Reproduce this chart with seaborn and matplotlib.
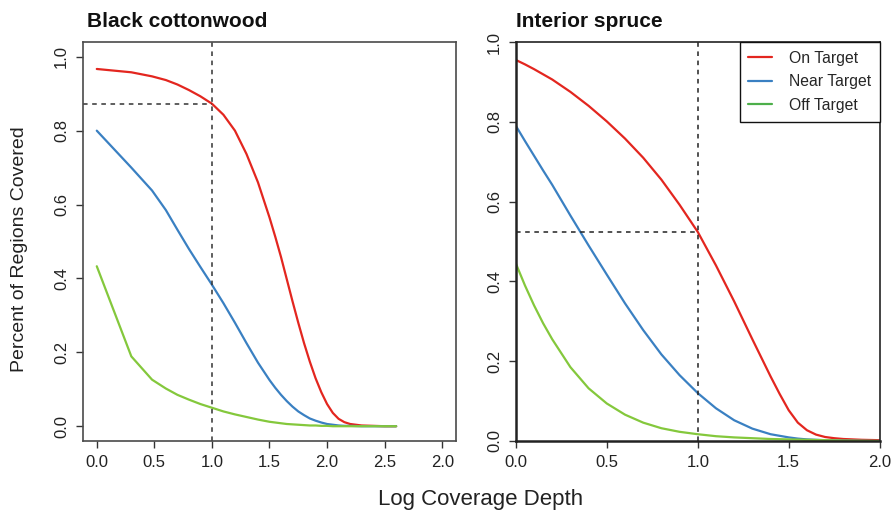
import pandas as pd
import matplotlib
matplotlib.use("Agg")
import matplotlib.pyplot as plt
from matplotlib.lines import Line2D
import seaborn as sns

# %% Data
# Black cottonwood (left panel)
bc_x = [0.0, 0.30, 0.48, 0.6, 0.7, 0.8, 0.9, 1.0, 1.1, 1.2, 1.3, 1.4, 1.5,
        1.55, 1.6, 1.65, 1.7, 1.75, 1.8, 1.85, 1.9, 1.95, 2.0, 2.05, 2.1,
        2.15, 2.2, 2.3, 2.4, 2.5, 2.6]
bc_on = [0.967, 0.958, 0.947, 0.937, 0.925, 0.910, 0.893, 0.873, 0.843, 0.800,
         0.737, 0.660, 0.565, 0.513, 0.458, 0.398, 0.338, 0.280, 0.225, 0.175,
         0.130, 0.092, 0.060, 0.036, 0.020, 0.011, 0.006, 0.002, 0.001, 0.0, 0.0]
bc_near = [0.800, 0.700, 0.638, 0.585, 0.532, 0.480, 0.431, 0.383, 0.333, 0.280,
           0.225, 0.172, 0.125, 0.104, 0.085, 0.068, 0.053, 0.040, 0.030, 0.021,
           0.015, 0.010, 0.006, 0.004, 0.002, 0.001, 0.001, 0.0, 0.0, 0.0, 0.0]
bc_off = [0.433, 0.189, 0.126, 0.102, 0.085, 0.072, 0.060, 0.050, 0.040, 0.032,
          0.025, 0.018, 0.012, 0.010, 0.008, 0.006, 0.005, 0.004, 0.003, 0.002,
          0.002, 0.001, 0.001, 0.0, 0.0, 0.0, 0.0, 0.0, 0.0, 0.0, 0.0]
bc_xticks = [0.0, 0.5, 1.0, 1.5, 2.0, 2.5, 3.0]
bc_xlabels = ["0.0", "0.5", "1.0", "1.5", "2.0", "2.5", "2.0"]
bc_ref_y = 0.872

# Interior spruce (right panel)
is_x = [0.0, 0.05, 0.1, 0.15, 0.2, 0.3, 0.4, 0.5, 0.6, 0.7, 0.8, 0.9, 1.0,
        1.1, 1.2, 1.3, 1.4, 1.45, 1.5, 1.55, 1.6, 1.65, 1.7, 1.75, 1.8, 1.9, 2.0]
is_on = [0.955, 0.944, 0.932, 0.919, 0.906, 0.875, 0.840, 0.801, 0.758, 0.710,
         0.655, 0.592, 0.524, 0.440, 0.350, 0.255, 0.162, 0.118, 0.077, 0.046,
         0.027, 0.016, 0.010, 0.007, 0.005, 0.003, 0.002]
is_near = [0.790, 0.752, 0.715, 0.678, 0.642, 0.565, 0.490, 0.417, 0.345, 0.278,
           0.217, 0.165, 0.120, 0.082, 0.052, 0.031, 0.017, 0.013, 0.009, 0.006,
           0.004, 0.003, 0.002, 0.0015, 0.001, 0.0005, 0.0]
is_off = [0.445, 0.390, 0.340, 0.295, 0.255, 0.185, 0.132, 0.094, 0.066, 0.046,
          0.032, 0.023, 0.017, 0.012, 0.009, 0.007, 0.005, 0.0045, 0.004, 0.0035,
          0.003, 0.0025, 0.002, 0.0015, 0.001, 0.0005, 0.0]
is_xticks = [0.0, 0.5, 1.0, 1.5, 2.0]
is_ref_y = 0.524

yticks = [0.0, 0.2, 0.4, 0.6, 0.8, 1.0]
groups = ["On Target", "Near Target", "Off Target"]
line_colors = {"On Target": "#E3261F", "Near Target": "#3A80C2", "Off Target": "#84C83C"}
legend_colors = ["#E3261F", "#3A80C2", "#4DAF4A"]

# %% Long tables for seaborn
bc = pd.DataFrame({"x": bc_x * 3,
                   "y": bc_on + bc_near + bc_off,
                   "series": [g for g in groups for _ in bc_x]})
sp = pd.DataFrame({"x": is_x * 3,
                   "y": is_on + is_near + is_off,
                   "series": [g for g in groups for _ in is_x]})

# %% Plot
sns.set_style("white")
plt.rcParams["font.family"] = ["Liberation Sans", "DejaVu Sans"]

fig = plt.figure(figsize=(8.94, 5.11), dpi=100)
ax1 = fig.add_axes([0.0928, 0.137, 0.4173, 0.7808])
ax2 = fig.add_axes([0.577, 0.137, 0.407, 0.7808])

sns.lineplot(data=bc, x="x", y="y", hue="series", palette=line_colors,
             linewidth=1.6, legend=False, ax=ax1, sort=False)
sns.lineplot(data=sp, x="x", y="y", hue="series", palette=line_colors,
             linewidth=1.6, legend=False, ax=ax2, sort=False)

# left panel: R default padded limits
ax1.set_xlim(-0.12, 3.12)
ax1.set_ylim(-0.04, 1.04)
ax1.set_xticks(bc_xticks)
ax1.set_xticklabels(bc_xlabels)
ax1.axvline(1.0, color="#333333", lw=1.1, ls=(0, (3, 3)))
ax1.hlines(bc_ref_y, -0.12, 1.0, color="#333333", lw=1.1, ls=(0, (3, 3)))

# right panel: exact limits
ax2.set_xlim(0, 2.0)
ax2.set_ylim(0, 1.0)
ax2.set_xticks(is_xticks)
ax2.set_xticklabels([f"{t:.1f}" for t in is_xticks])
ax2.axvline(1.0, color="#222222", lw=1.1, ls=(0, (3, 3)))
ax2.hlines(is_ref_y, 0, 1.0, color="#222222", lw=1.1, ls=(0, (3, 3)))

for ax, spine_col in [(ax1, "#4a4a4a"), (ax2, "#222222")]:
    ax.set_yticks(yticks)
    ax.set_yticklabels([f"{t:.1f}" for t in yticks], rotation=90, va="center")
    ax.set_xlabel("")
    ax.set_ylabel("")
    ax.tick_params(axis="both", direction="out", length=5, width=1,
                   color="#333333", labelsize=12, labelcolor="#222222",
                   left=True, bottom=True, pad=5)
    for s in ax.spines.values():
        s.set_visible(True)
        s.set_color(spine_col)
        s.set_linewidth(1.2)

ax2.spines["left"].set_linewidth(1.8)
ax2.spines["bottom"].set_linewidth(1.8)

# legend
handles = [Line2D([0], [0], color=c, lw=1.6) for c in legend_colors]
leg = ax2.legend(handles, groups, loc="upper right", fontsize=11.3,
                 frameon=True, fancybox=False, borderaxespad=0,
                 handlelength=1.5, handletextpad=1.1, labelspacing=0.55,
                 borderpad=0.55)
leg.get_frame().set_edgecolor("#111111")
leg.get_frame().set_linewidth(1.0)
leg.get_frame().set_alpha(1)

# titles and shared labels
fig.text(0.097, 0.958, "Black cottonwood", fontsize=15, fontweight="bold",
         ha="left", va="center", color="#111111")
fig.text(0.577, 0.958, "Interior spruce", fontsize=15, fontweight="bold",
         ha="left", va="center", color="#111111")
fig.text(0.022, 0.512, "Percent of Regions Covered", fontsize=14, rotation=90,
         ha="center", va="center", color="#222222")
fig.text(0.537, 0.022, "Log Coverage Depth", fontsize=16, ha="center",
         va="center", color="#222222")

fig.savefig("out.png", dpi=100)
